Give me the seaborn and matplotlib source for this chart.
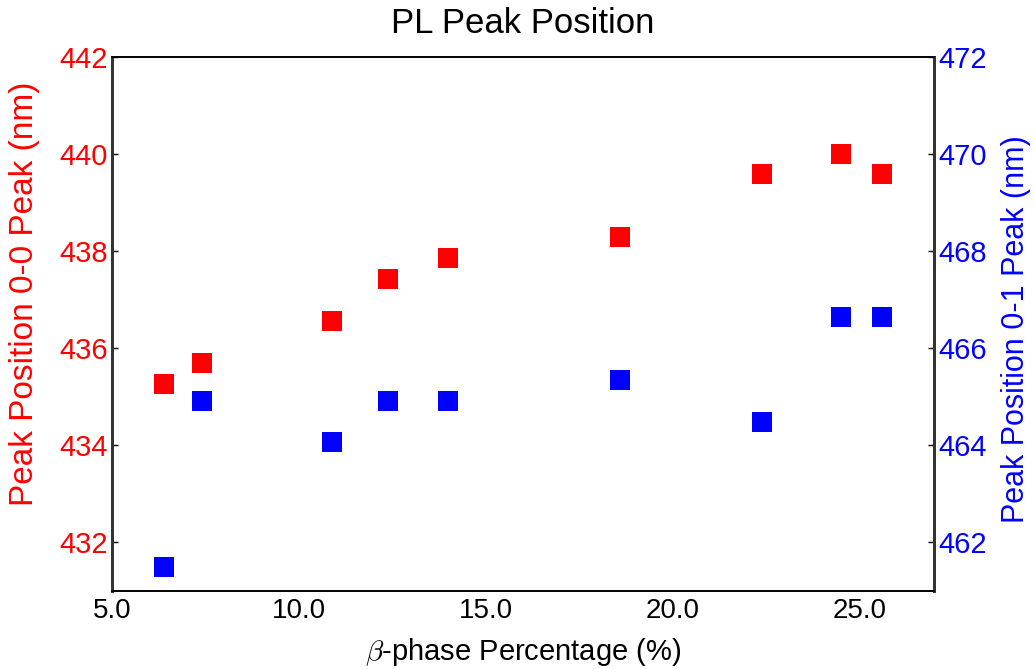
import numpy as np
import pandas as pd
import matplotlib
matplotlib.use("Agg")
import matplotlib.pyplot as plt
import seaborn as sns

# Data
beta_pct = [6.4, 7.4, 10.9, 12.4, 14.0, 18.6, 22.4, 24.5, 25.6]
peak_00 = [435.27, 435.69, 436.56, 437.42, 437.85, 438.29, 439.58, 440.0, 439.58]
peak_01 = [461.49, 464.92, 464.07, 464.92, 464.92, 465.35, 464.49, 466.65, 466.65]
x_ticks = [5.0, 10.0, 15.0, 20.0, 25.0]
y_ticks_left = [432, 434, 436, 438, 440, 442]
y_ticks_right = [462, 464, 466, 468, 470, 472]

sns.set_theme(style="white")
plt.rcParams['font.family'] = ['Liberation Sans', 'DejaVu Sans']
plt.rcParams['mathtext.fontset'] = 'cm'

df = pd.DataFrame({"beta": beta_pct, "p00": peak_00, "p01": peak_01})

fig = plt.figure(figsize=(10.35, 6.69), dpi=100)
ax = fig.add_axes([0.1082, 0.1166, 0.7942, 0.7982])
ax2 = ax.twinx()

sns.scatterplot(data=df, x="beta", y="p00", ax=ax, color="red", marker="s",
                s=207, linewidth=0, zorder=3)
sns.scatterplot(data=df, x="beta", y="p01", ax=ax2, color="blue", marker="s",
                s=207, linewidth=0, zorder=3)

ax.set_xlim(5, 27)
ax.set_ylim(431, 442)
ax2.set_ylim(461, 472)
ax.set_xticks(x_ticks)
ax.set_xticklabels([f"{t:.1f}" for t in x_ticks])
ax.set_yticks(y_ticks_left)
ax2.set_yticks(y_ticks_right)

ax.tick_params(axis='x', direction='in', length=4, width=1, labelsize=20, colors='black', pad=5)
ax.tick_params(axis='y', direction='in', length=4, width=1, labelsize=21, labelcolor='red', color='black', pad=3)
ax2.tick_params(axis='y', direction='in', length=4, width=1, labelsize=21, labelcolor='blue', color='black', pad=3)

ax.set_xlabel(r"$\beta$-phase Percentage (%)", fontsize=21, color='black', labelpad=9)
ax.set_ylabel("Peak Position 0-0 Peak (nm)", fontsize=24, color='red')
ax2.set_ylabel("Peak Position 0-1 Peak (nm)", fontsize=22, color='blue')
ax.yaxis.set_label_coords(-0.088, 0.556)
ax2.yaxis.set_label_coords(1.081, 0.49)
ax.set_title("PL Peak Position", fontsize=25, color='black', pad=17)

for a in (ax, ax2):
    for side in a.spines.values():
        side.set_visible(True)
        side.set_color('black')
        side.set_linewidth(1.2)
    a.spines['left'].set_color('#333333')
    a.spines['right'].set_color('#333333')
    a.spines['left'].set_linewidth(2)
    a.spines['right'].set_linewidth(2)

fig.savefig("out.png", dpi=100)
